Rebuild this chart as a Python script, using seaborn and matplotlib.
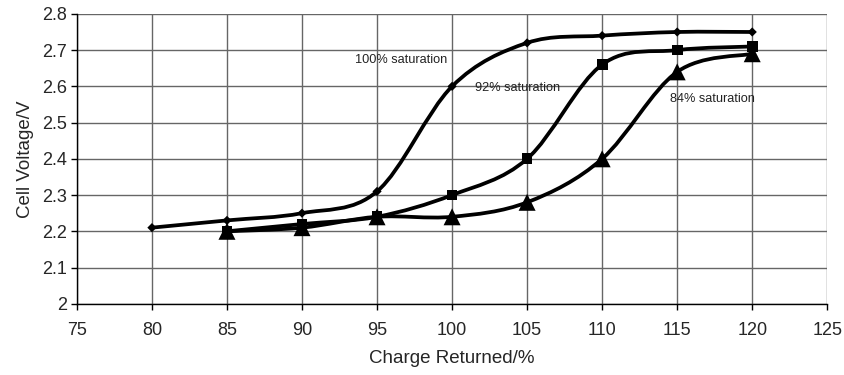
import numpy as np
import pandas as pd
import matplotlib
matplotlib.use("Agg")
import matplotlib.pyplot as plt
from matplotlib.path import Path
from matplotlib.patches import PathPatch
import seaborn as sns

# values
charge_100 = [80, 85, 90, 95, 100, 105, 110, 115, 120]
volt_100 = [2.21, 2.23, 2.25, 2.31, 2.60, 2.72, 2.74, 2.75, 2.75]
charge_92 = [85, 90, 95, 100, 105, 110, 115, 120]
volt_92 = [2.20, 2.22, 2.24, 2.30, 2.40, 2.66, 2.70, 2.71]
charge_84 = [85, 90, 95, 100, 105, 110, 115, 120]
volt_84 = [2.20, 2.21, 2.24, 2.24, 2.28, 2.40, 2.64, 2.69]
labels = ["100% saturation", "92% saturation", "84% saturation"]

df = pd.concat([
    pd.DataFrame({"charge": charge_100, "volt": volt_100, "sat": labels[0]}),
    pd.DataFrame({"charge": charge_92, "volt": volt_92, "sat": labels[1]}),
    pd.DataFrame({"charge": charge_84, "volt": volt_84, "sat": labels[2]}),
])

sns.set_style("whitegrid")
plt.rcParams['font.family'] = ['Liberation Sans', 'DejaVu Sans']

fig, ax = plt.subplots(figsize=(8.45, 3.75), dpi=100)
fig.subplots_adjust(left=0.091, right=0.979, top=0.963, bottom=0.19)


def smooth_path(xs, ys):
    # excel style smoothed line as cubic bezier segments
    pts = np.column_stack([xs, ys]).astype(float)
    verts = [pts[0]]
    codes = [Path.MOVETO]
    n = len(pts)
    for i in range(n - 1):
        p0 = pts[max(i - 1, 0)]
        p1 = pts[i]
        p2 = pts[i + 1]
        p3 = pts[min(i + 2, n - 1)]
        c1 = p1 + (p2 - p0) / 6.0
        c2 = p2 - (p3 - p1) / 6.0
        verts += [c1, c2, p2]
        codes += [Path.CURVE4] * 3
    return Path(verts, codes)


for lab in labels:
    sub = df[df.sat == lab]
    ax.add_patch(PathPatch(smooth_path(sub.charge, sub.volt), fill=False,
                           edgecolor="black", lw=2.7, zorder=3,
                           capstyle="round", joinstyle="round"))

sns.scatterplot(data=df, x="charge", y="volt", style="sat", size="sat",
                markers={labels[0]: "D", labels[1]: "s", labels[2]: "^"},
                sizes={labels[0]: 22, labels[1]: 60, labels[2]: 150},
                color="black", edgecolor="black", linewidth=0,
                legend=False, zorder=4, ax=ax)

ax.set_xlim(75, 125)
ax.set_ylim(2.0, 2.8)
ax.set_xticks(range(75, 126, 5))
ax.set_yticks(np.arange(2.0, 2.81, 0.1))
ax.set_yticklabels(["2", "2.1", "2.2", "2.3", "2.4", "2.5", "2.6", "2.7", "2.8"])
ax.grid(True, color="#666666", lw=1.0)
ax.set_axisbelow(True)
for s in ["top", "right"]:
    ax.spines[s].set_visible(False)
for s in ["left", "bottom"]:
    ax.spines[s].set_color("black")
    ax.spines[s].set_linewidth(1.0)
ax.tick_params(axis="both", which="both", direction="out", length=4, width=1,
               color="black", labelsize=13, left=True, bottom=True)
ax.tick_params(axis="x", pad=9)
ax.tick_params(axis="y", pad=3)
ax.set_xlabel("Charge Returned/%", fontsize=13.5, labelpad=8)
ax.set_ylabel("Cell Voltage/V", fontsize=13.5, labelpad=6)

ax.text(93.5, 2.673, labels[0], fontsize=9.2, color="#222222", va="center", ha="left")
ax.text(101.5, 2.596, labels[1], fontsize=9.2, color="#222222", va="center", ha="left")
ax.text(114.5, 2.565, labels[2], fontsize=9.2, color="#222222", va="center", ha="left")

fig.savefig("out.png", dpi=100)
